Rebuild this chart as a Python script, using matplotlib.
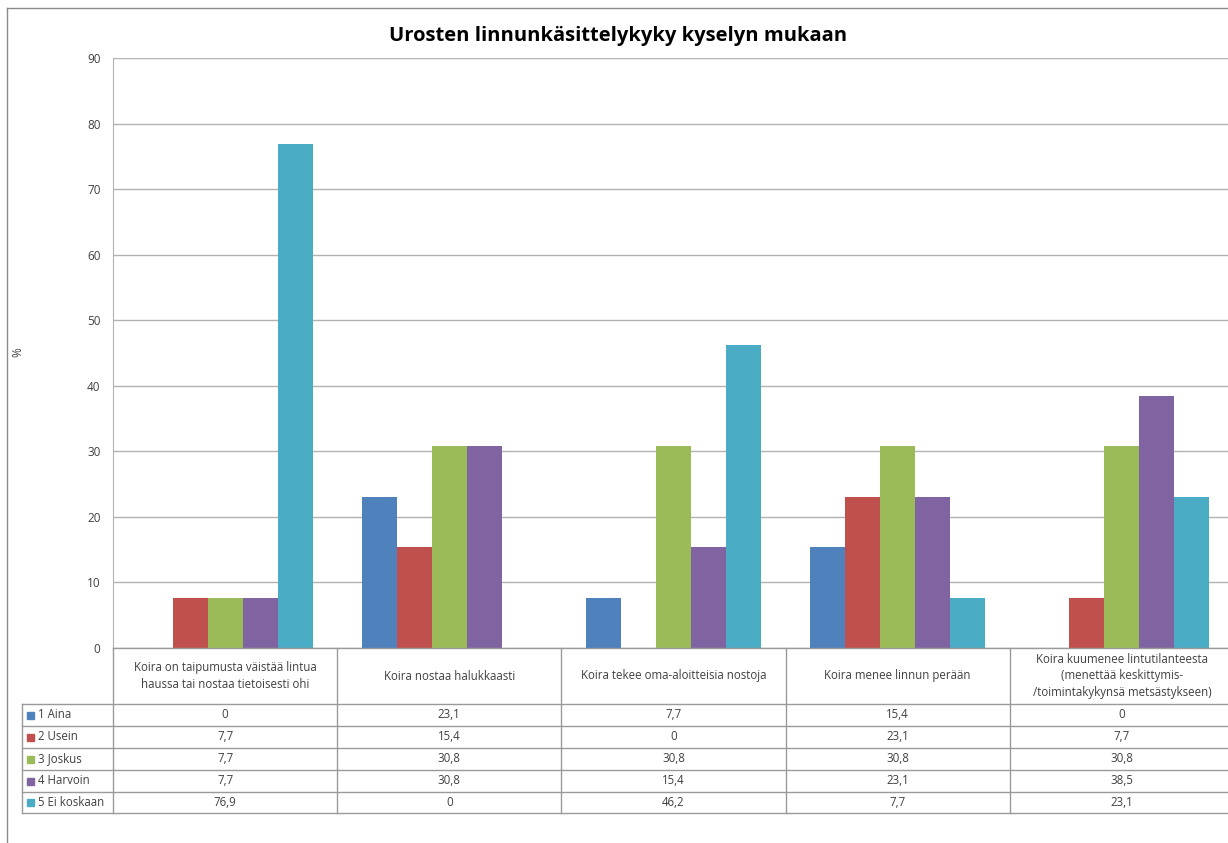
import matplotlib
matplotlib.use("Agg")
import matplotlib.pyplot as plt
import matplotlib.transforms as mtransforms
from matplotlib.lines import Line2D
from matplotlib.patches import Rectangle

plt.rcParams['font.family'] = ['Open Sans', 'DejaVu Sans']

title = "Urosten linnunkäsittelykyky kyselyn mukaan"
categories = [
    "Koira on taipumusta väistää lintua\nhaussa tai nostaa tietoisesti ohi",
    "Koira nostaa halukkaasti",
    "Koira tekee oma-aloitteisia nostoja",
    "Koira menee linnun perään",
    "Koira kuumenee lintutilanteesta\n(menettää keskittymis-\n/toimintakykynsä metsästykseen)",
]
series_names = ["1 Aina", "2 Usein", "3 Joskus", "4 Harvoin", "5 Ei koskaan"]
aina = [0, 23.1, 7.7, 15.4, 0]
usein = [7.7, 15.4, 0, 23.1, 7.7]
joskus = [7.7, 30.8, 30.8, 30.8, 30.8]
harvoin = [7.7, 30.8, 15.4, 23.1, 38.5]
ei_koskaan = [76.9, 0, 46.2, 7.7, 23.1]
series = [aina, usein, joskus, harvoin, ei_koskaan]
colors = ["#4F81BD", "#C0504D", "#9BBB59", "#8064A2", "#4BACC6"]
yticks = list(range(0, 91, 10))

W, H = 1228, 843
fig = plt.figure(figsize=(W / 100, H / 100), dpi=100)

def fx(x):
    return x / W

def fy(y):
    return 1 - y / H

# outer chart border
fig.add_artist(Line2D([fx(7), fx(W + 5)], [fy(8), fy(8)], color="#8a8a8a", lw=1.0, transform=fig.transFigure))
fig.add_artist(Line2D([fx(7), fx(7)], [fy(8), fy(H + 5)], color="#8a8a8a", lw=1.0, transform=fig.transFigure))

left, right, top, bottom = 113, 1234, 58, 648
ax = fig.add_axes([fx(left), fy(bottom), fx(right - left), fy(top) - fy(bottom)])
ax.set_xlim(-0.5, 4.5)
ax.set_ylim(0, 90)
ax.set_yticks(yticks)
ax.set_xticks([])
ax.yaxis.grid(True, color="#b2b2b2", lw=1.0)
ax.set_axisbelow(True)
for s in ["top", "right", "bottom"]:
    ax.spines[s].set_visible(False)
ax.spines["left"].set_color("#b2b2b2")
ax.tick_params(axis="y", length=0, pad=9, labelsize=8.5, labelcolor="#404040")

w = 0.156
for j, (vals, c) in enumerate(zip(series, colors)):
    xs = [i + (j - 2) * w for i in range(len(categories))]
    ax.bar(xs, vals, width=w, color=c, edgecolor="none", zorder=3)

fig.text(fx(618), fy(36), title, ha="center", va="center", fontsize=14.5, fontweight="bold", color="#000000")
fig.text(fx(18), fy(352), "%", rotation=90, ha="center", va="center", fontsize=8.5, color="#404040")

# data table
bt = mtransforms.blended_transform_factory(ax.transData, fig.transFigure)
gc = "#9a9a9a"
row_edges = [648, 704, 726, 748, 770, 792, 813]
fig.add_artist(Line2D([fx(left), fx(right)], [fy(648), fy(648)], color=gc, lw=1.0, transform=fig.transFigure))
for y in row_edges[1:]:
    fig.add_artist(Line2D([fx(22), fx(right)], [fy(y), fy(y)], color=gc, lw=1.0, transform=fig.transFigure))
fig.add_artist(Line2D([fx(22), fx(22)], [fy(704), fy(813)], color=gc, lw=1.0, transform=fig.transFigure))
for i in range(len(categories) + 1):
    fig.add_artist(Line2D([i - 0.5, i - 0.5], [fy(648), fy(813)], color=gc, lw=1.0, transform=bt))

def fmt(v):
    if float(v).is_integer():
        return str(int(v))
    return f"{v:.1f}".replace(".", ",")

fs = 8.3
for i, cat in enumerate(categories):
    fig.text(i, fy(676), cat, transform=bt, ha="center", va="center", fontsize=fs,
             color="#404040", linespacing=1.35)
for r, (name, vals, c) in enumerate(zip(series_names, series, colors)):
    yc = (row_edges[r + 1] + row_edges[r + 2]) / 2
    fig.add_artist(Rectangle((fx(27), fy(yc) - 3.5 / H), 7 / W, 7 / H, color=c, transform=fig.transFigure))
    fig.text(fx(38), fy(yc), name, ha="left", va="center", fontsize=fs, color="#404040")
    for i, v in enumerate(vals):
        fig.text(i, fy(yc), fmt(v), transform=bt, ha="center", va="center", fontsize=fs, color="#404040")

fig.savefig("out.png", dpi=100, facecolor="white")
